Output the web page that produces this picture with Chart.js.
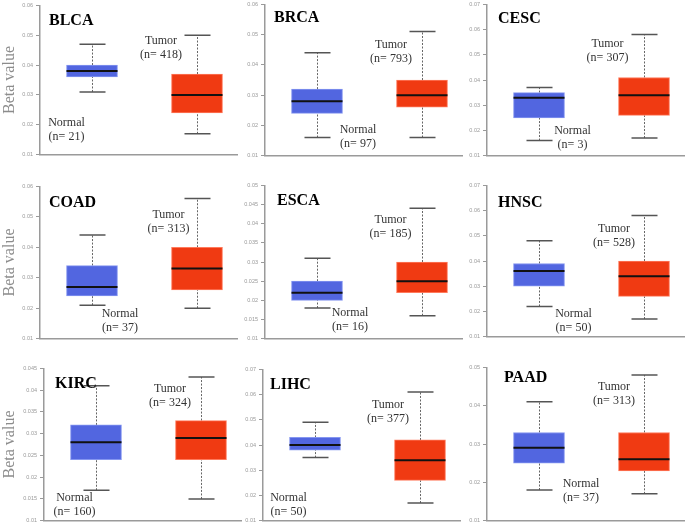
<!DOCTYPE html>
<html>
<head>
<meta charset="utf-8">
<script src="https://cdn.jsdelivr.net/npm/chart.js@4/dist/chart.umd.min.js"></script>
<style>
  html, body { margin: 0; padding: 0; background: #fff; }
  #wrap { position: relative; width: 685px; height: 528px; overflow: hidden; }
  #wrap canvas { position: absolute; }
</style>
</head>
<body>
<div id="wrap"></div>
<script>
// cancer types, one panel each
const cancers = ["BLCA", "BRCA", "CESC", "COAD", "ESCA", "HNSC", "KIRC", "LIHC", "PAAD"];
const groups = ["Normal", "Tumor"];
const normalN = [21, 97, 3, 37, 16, 50, 160, 50, 37];
const tumorN = [418, 793, 307, 313, 185, 528, 324, 377, 313];

// [lower whisker, q1, median, q3, upper whisker]
const normalStats = [
  [0.031, 0.036, 0.038, 0.040, 0.047],
  [0.016, 0.024, 0.028, 0.032, 0.044],
  [0.016, 0.025, 0.033, 0.035, 0.037],
  [0.021, 0.024, 0.027, 0.034, 0.044],
  [0.018, 0.020, 0.022, 0.025, 0.031],
  [0.022, 0.030, 0.036, 0.039, 0.048],
  [0.017, 0.024, 0.028, 0.032, 0.041],
  [0.035, 0.038, 0.040, 0.043, 0.049],
  [0.018, 0.025, 0.029, 0.033, 0.041]
];
const tumorStats = [
  [0.017, 0.024, 0.030, 0.037, 0.050],
  [0.016, 0.026, 0.030, 0.035, 0.051],
  [0.017, 0.026, 0.034, 0.041, 0.058],
  [0.020, 0.026, 0.033, 0.040, 0.056],
  [0.016, 0.022, 0.025, 0.030, 0.044],
  [0.017, 0.026, 0.034, 0.040, 0.058],
  [0.015, 0.024, 0.029, 0.033, 0.043],
  [0.017, 0.026, 0.034, 0.042, 0.061],
  [0.017, 0.023, 0.026, 0.033, 0.048]
];

// y axis ranges
const yMin = [0.01, 0.01, 0.01, 0.01, 0.01, 0.01, 0.01, 0.01, 0.01];
const yMax = [0.06, 0.06, 0.07, 0.06, 0.05, 0.07, 0.045, 0.07, 0.05];
const yStep = [0.01, 0.01, 0.01, 0.01, 0.005, 0.01, 0.005, 0.01, 0.01];

// page layout (pixels)
const axisX = [40, 265, 487, 40, 265, 487, 44, 263, 487];
const topY = [5, 3.5, 3.5, 186, 185, 184.5, 367.5, 369, 367];
const bottomY = [156, 156, 156, 340, 340, 337.5, 521, 522, 521.5];
const plotW = 198;
const titleOff = [[9, 16], [9, 14], [11, 15], [9, 17], [12, 16], [11, 18], [11, 16], [7, 16], [17, 11]];
const tumorOff = [[121, 36], [126, 41], [120.5, 39.5], [128.5, 28.5], [125.5, 35], [127, 44], [126, 21], [125, 35.5], [127, 20]];
const normalOff = [[26.5, 118], [93, 126], [85.5, 126.5], [80, 128], [85, 128], [86.5, 128.5], [30.5, 129.5], [25.5, 128.5], [94, 116.5]];

const blue = "#5266e0", red = "#f03a12";
const axisGray = "#9a9a9a";

const boxPlugin = {
  id: "boxParts",
  beforeDatasetsDraw(chart) {
    const ctx = chart.ctx, x = chart.scales.x, y = chart.scales.y;
    const st = chart.options.plugins.boxParts.stats;
    st.forEach((s, i) => {
      const cx = Math.round(x.getPixelForValue(i)) + 0.5;
      ctx.save();
      ctx.strokeStyle = "#666";
      ctx.lineWidth = 1;
      ctx.setLineDash([2, 1.5]);
      ctx.beginPath();
      ctx.moveTo(cx, y.getPixelForValue(s[0]));
      ctx.lineTo(cx, y.getPixelForValue(s[1]));
      ctx.moveTo(cx, y.getPixelForValue(s[3]));
      ctx.lineTo(cx, y.getPixelForValue(s[4]));
      ctx.stroke();
      ctx.setLineDash([]);
      ctx.strokeStyle = "#555";
      ctx.lineWidth = 1.5;
      ctx.beginPath();
      [s[0], s[4]].forEach(v => {
        const py = y.getPixelForValue(v);
        ctx.moveTo(cx - 13, py);
        ctx.lineTo(cx + 13, py);
      });
      ctx.stroke();
      ctx.restore();
    });
  },
  afterDatasetsDraw(chart) {
    const ctx = chart.ctx, x = chart.scales.x, y = chart.scales.y;
    const o = chart.options.plugins.boxParts;
    const a = chart.chartArea;
    ctx.save();
    ctx.strokeStyle = "#111";
    ctx.lineWidth = 2;
    o.stats.forEach((s, i) => {
      const cx = x.getPixelForValue(i);
      const py = y.getPixelForValue(s[2]);
      ctx.beginPath();
      ctx.moveTo(cx - 25.5, py);
      ctx.lineTo(cx + 25.5, py);
      ctx.stroke();
    });
    ctx.fillStyle = "#000";
    ctx.font = "bold 16px 'Liberation Serif'";
    ctx.textAlign = "left";
    ctx.textBaseline = "middle";
    ctx.fillText(o.title, a.left + o.titleOff[0], a.top + o.titleOff[1]);
    ctx.fillStyle = "#333";
    ctx.font = "12px 'Liberation Serif'";
    ctx.textAlign = "center";
    ctx.fillText("Tumor", a.left + o.tumorOff[0], a.top + o.tumorOff[1]);
    ctx.fillText("(n= " + o.nT + ")", a.left + o.tumorOff[0], a.top + o.tumorOff[1] + 14);
    ctx.fillText("Normal", a.left + o.normalOff[0], a.top + o.normalOff[1]);
    ctx.fillText("(n= " + o.nN + ")", a.left + o.normalOff[0], a.top + o.normalOff[1] + 14);
    ctx.restore();
  }
};

const wrap = document.getElementById("wrap");

cancers.forEach((name, i) => {
  const col = i % 3;
  const left = col === 0 ? 0 : axisX[i] - 40;
  const yWidth = axisX[i] - left;
  const top = topY[i] - 6;
  const padBottom = 5;
  const width = col === 2 ? 685 - left : yWidth + plotW;
  const height = Math.round(bottomY[i] + padBottom - top);

  const canvas = document.createElement("canvas");
  canvas.width = width;
  canvas.height = height;
  canvas.style.left = left + "px";
  canvas.style.top = top + "px";
  wrap.appendChild(canvas);

  const stats = [normalStats[i], tumorStats[i]];

  new Chart(canvas.getContext("2d"), {
    type: "bar",
    data: {
      labels: groups,
      datasets: [{
        data: stats.map((s, k) => ({ x: k, y: [s[1], s[3]] })),
        backgroundColor: [blue, red],
        borderColor: ["#8596f0", "#ff7a5c"],
        borderWidth: 1,
        borderSkipped: false,
        barThickness: 51
      }]
    },
    options: {
      responsive: false,
      animation: false,
      devicePixelRatio: 1,
      layout: { padding: { top: 6, bottom: padBottom, left: 0, right: 0 } },
      plugins: {
        legend: { display: false },
        tooltip: { enabled: false },
        boxParts: {
          stats: stats,
          title: name,
          titleOff: titleOff[i],
          tumorOff: tumorOff[i],
          normalOff: normalOff[i],
          nN: normalN[i],
          nT: tumorN[i]
        }
      },
      scales: {
        x: {
          type: "linear",
          offset: false,
          min: -52 / 105,
          max: (plotW - 52) / 105,
          ticks: { display: false },
          grid: { display: false },
          border: { display: true, color: axisGray, width: 1.5 },
          afterFit: s => { s.height = 0; }
        },
        y: {
          min: yMin[i],
          max: yMax[i],
          ticks: {
            stepSize: yStep[i],
            padding: 3,
            color: "#999",
            font: { family: "'Liberation Sans'", size: 5.5 },
            callback: v => String(+v.toFixed(3))
          },
          grid: { drawOnChartArea: false, drawTicks: true, tickLength: 4, color: axisGray, lineWidth: 1 },
          border: { display: true, color: axisGray, width: 1.5 },
          title: {
            display: col === 0,
            text: "Beta value",
            color: "#8c8c8c",
            padding: 0,
            font: { family: "'Liberation Serif'", size: 16 }
          },
          afterFit: s => { s.width = yWidth; }
        }
      }
    },
    plugins: [boxPlugin]
  });
});
</script>
</body>
</html>
